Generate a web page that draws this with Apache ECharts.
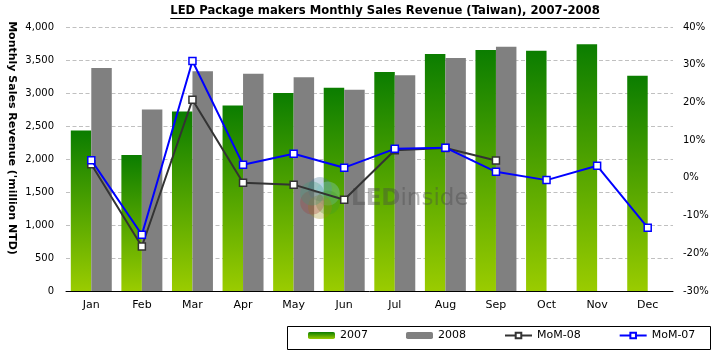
<!DOCTYPE html>
<html><head><meta charset="utf-8">
<script src="https://cdn.jsdelivr.net/npm/echarts@6/dist/echarts.min.js"></script>
<style>html,body{margin:0;padding:0;background:#fff}#c{width:722px;height:357px}</style>
</head><body><div id="c"></div>
<script>
const categories = ['Jan','Feb','Mar','Apr','May','Jun','Jul','Aug','Sep','Oct','Nov','Dec'];
const rev2007 = [2430, 2060, 2720, 2810, 3000, 3080, 3320, 3590, 3650, 3640, 3740, 3260];
const rev2008 = [3380, 2750, 3330, 3290, 3240, 3050, 3270, 3530, 3700, null, null, null];
const mom08 = [3.6, -18.2, 20.7, -1.3, -1.8, -5.8, 7.3, 7.9, 4.6, null, null, null];
const mom07 = [4.7, -15.1, 31.0, 3.5, 6.4, 2.7, 7.7, 8.0, 1.6, -0.6, 3.2, -13.2];
const titleText = 'LED Package makers Monthly Sales Revenue (Taiwan), 2007-2008';
const yName = "Monthly Sales Revenue ('million NTD)";

const FONT = '"DejaVu Sans", Verdana, sans-serif';
const ctx = document.createElement('canvas').getContext('2d');
ctx.font = 'bold 11.6px ' + FONT;
const tw = ctx.measureText(titleText).width;
const titleCx = 385;

const green = new echarts.graphic.LinearGradient(0, 0, 0, 1, [
  {offset: 0, color: '#0b7d00'}, {offset: 1, color: '#9acc00'}
]);

const chart = echarts.init(document.getElementById('c'));
const logoColors = ['#3d6f99', '#8ed6f2', '#3f9a2a', '#9a8a12', '#a33a3a', '#3b9a7c'];
const logo = logoColors.map((c, i) => {
  const a = i * Math.PI / 3 - Math.PI / 2;
  return {type: 'circle', z: 2, silent: true,
    shape: {cx: 320 + 9 * Math.cos(a), cy: 198 + 9 * Math.sin(a), r: 12},
    style: {fill: c, opacity: 0.3}};
});

chart.setOption({
  animation: false,
  textStyle: {fontFamily: FONT},
  grid: {left: 66, right: 49, top: 27, bottom: 66, outerBoundsMode: 'none'},
  graphic: [
    {type: 'text', z: 5, x: titleCx, y: 11, style: {text: titleText, align: 'center', verticalAlign: 'middle',
      font: 'bold 11.6px ' + FONT, fill: '#000'}},
    {type: 'line', z: 5, shape: {x1: titleCx - tw / 2, y1: 18.5, x2: titleCx + tw / 2, y2: 18.5}, style: {stroke: '#000', lineWidth: 1}},
    {type: 'text', z: 5, x: 12, y: 138, rotation: -Math.PI / 2, style: {text: yName, align: 'center', verticalAlign: 'middle',
      font: 'bold 11px ' + FONT, fill: '#000'}},
    {type: 'rect', z: 5, shape: {x: 287.5, y: 326.5, width: 423, height: 23}, style: {fill: 'none', stroke: '#000', lineWidth: 1}},
    ...logo,
    {type: 'text', z: 2, silent: true, x: 351, y: 199, style: {
      text: '{a|LED}{b|inside}', verticalAlign: 'middle', align: 'left',
      rich: {a: {font: 'bold 23px ' + FONT, fill: 'rgba(70,70,70,0.38)'},
             b: {font: '23px ' + FONT, fill: 'rgba(70,70,70,0.38)'}}}}
  ],
  legend: {
    left: 308, top: 330, padding: 0, itemGap: 38, itemWidth: 27, itemHeight: 7,
    textStyle: {fontSize: 11, color: '#000', fontFamily: FONT},
    data: ['2007', '2008', 'MoM-08', 'MoM-07']
  },
  xAxis: {
    type: 'category', data: categories,
    axisLine: {lineStyle: {color: '#000', width: 1}},
    axisTick: {inside: true, length: 3, lineStyle: {color: '#000'}},
    axisLabel: {color: '#000', fontSize: 11, margin: 9, fontFamily: FONT}
  },
  yAxis: [
    {type: 'value', min: 0, max: 4000, interval: 500,
     axisLine: {show: false}, axisTick: {show: false},
     axisLabel: {color: '#000', fontSize: 10, margin: 12, fontFamily: FONT,
       formatter: v => v.toLocaleString('en-US')},
     splitLine: {lineStyle: {color: '#c0c0c0', type: [4, 2.5], width: 1}}},
    {type: 'value', min: -30, max: 40, interval: 10,
     axisLine: {show: false}, axisTick: {show: false}, splitLine: {show: false},
     axisLabel: {color: '#000', fontSize: 10, margin: 10, fontFamily: FONT, formatter: '{value}%'}}
  ],
  series: [
    {name: '2007', type: 'bar', data: rev2007, barGap: 0, barCategoryGap: '19%', z: 1,
     itemStyle: {color: green}},
    {name: '2008', type: 'bar', data: rev2008, barGap: 0, barCategoryGap: '19%', z: 1,
     itemStyle: {color: '#808080'}},
    {name: 'MoM-08', type: 'line', yAxisIndex: 1, data: mom08, z: 3,
     symbol: 'rect', symbolSize: 7, showAllSymbol: true,
     lineStyle: {color: '#333333', width: 2},
     itemStyle: {color: '#ffffff', borderColor: '#333333', borderWidth: 1.5}},
    {name: 'MoM-07', type: 'line', yAxisIndex: 1, data: mom07, z: 4,
     symbol: 'rect', symbolSize: 7, showAllSymbol: true,
     lineStyle: {color: '#0000ff', width: 2},
     itemStyle: {color: '#ffffff', borderColor: '#0000ff', borderWidth: 1.5}}
  ]
});
</script></body></html>
